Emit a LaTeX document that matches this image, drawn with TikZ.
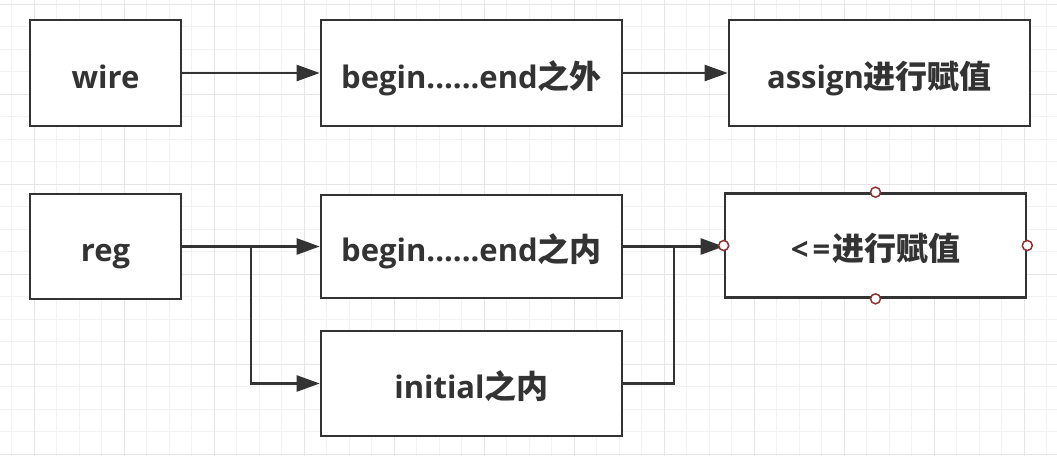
\documentclass[tikz,border=0pt]{standalone}
\usepackage{fontspec}
\setmainfont{Open Sans}
\newfontfamily\cjkfont{Noto Sans CJK SC}
\usetikzlibrary{arrows.meta}
\definecolor{ink}{HTML}{333333}
\definecolor{gridminor}{HTML}{F2F2F2}
\definecolor{gridmajor}{HTML}{E6E6E6}
\definecolor{portred}{HTML}{8B3333}
\newcommand\zh[1]{{\cjkfont\fontsize{32}{36}\selectfont #1}}
\begin{document}
\begin{tikzpicture}[x=1pt,y=-1pt,
  box/.style={draw=ink, line width=2.6pt, fill=white, inner sep=0pt, text=ink,
    text height=30pt, text depth=0pt, font=\bfseries\fontsize{31}{36}\selectfont},
  conn/.style={draw=ink, line width=2.4pt},
  arr/.style={conn, -{Triangle[length=23pt,width=16pt]}},
  port/.style={circle, draw=portred, fill=white, line width=1.5pt, minimum size=10pt, inner sep=0pt},
  minorline/.style={draw=gridminor, line width=1pt},
  majorline/.style={draw=gridmajor, line width=1.3pt}]
\useasboundingbox[fill=white] (0,0) rectangle (1057,456);
% grid
\foreach \i in {0,...,46} \draw[minorline] ({11.7+22.5*\i},0) -- ({11.7+22.5*\i},456);
\foreach \j in {0,...,20} \draw[minorline] (0,{4.2+22.5*\j}) -- (1057,{4.2+22.5*\j});
\foreach \i in {0,...,11} \draw[majorline] ({34.2+90*\i},0) -- ({34.2+90*\i},456);
\foreach \j in {0,...,5} \draw[majorline] (0,{4.2+90*\j}) -- (1057,{4.2+90*\j});
% boxes
\node[box, minimum width=151pt, minimum height=106pt] (wire) at (105.5,73) {wire};
\node[box, minimum width=301pt, minimum height=106pt] (outside) at (471.5,73) {begin......end\zh{之外}};
\node[box, minimum width=301pt, minimum height=106pt] (assign) at (879.5,73) {assign\zh{进行赋值}};
\node[box, minimum width=151pt, minimum height=105pt] (reg) at (105.5,246.5) {reg};
\node[box, minimum width=301pt, minimum height=103pt] (inside) at (471.5,246.5) {begin......end\zh{之内}};
\node[box, minimum width=301pt, minimum height=105pt] (initial) at (471.5,383.5) {initial\zh{之内}};
\node[box, minimum width=301pt, minimum height=104pt] (nb) at (875.5,245.5) {<\kern4pt=\kern2pt\zh{进行赋值}};
% connectors
\coordinate (split) at (251,246.5);
\coordinate (merge) at (674,246.5);
\draw[arr] (wire) -- (outside);
\draw[arr] (outside) -- (assign);
\draw[arr] (reg) -- (inside);
\draw[arr] (split) |- (initial.west);
\draw[arr] (inside.east) -- (inside.east -| nb.west);
\draw[conn] (initial.east) -| (merge);
% ports
\node[port] (pn) at (nb.north) {};
\node[port] (ps) at (nb.south) {};
\node[port] (pe) at (nb.east) {};
\node[port] (pw) at (nb.west) {};
\end{tikzpicture}
\end{document}
